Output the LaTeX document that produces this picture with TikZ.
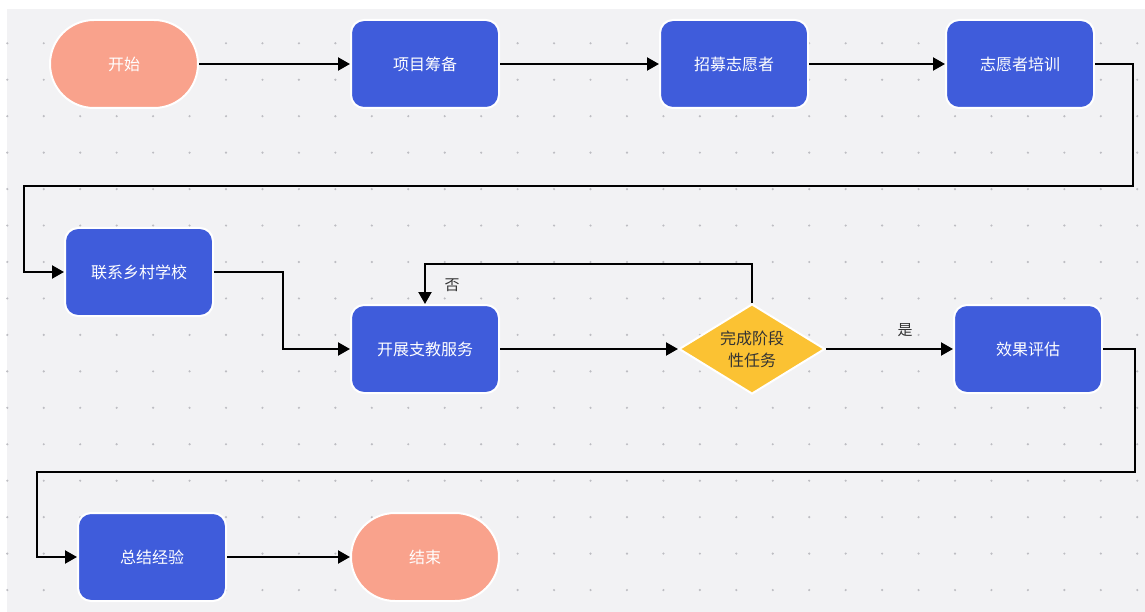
\documentclass[tikz,border=0pt]{standalone}
\usepackage{fontspec}
\newfontfamily\cjk{Noto Sans CJK SC}
\usepackage{tikz}
\usetikzlibrary{arrows.meta,shapes.geometric}

\definecolor{boardgray}{HTML}{F2F2F4}
\definecolor{dotgray}{HTML}{BDBDC2}
\definecolor{taskblue}{HTML}{3F5CDB}
\definecolor{termred}{HTML}{F9A28C}
\definecolor{askyellow}{HTML}{FBC233}
\definecolor{inkdark}{HTML}{333333}

\begin{document}
\begin{tikzpicture}[x=1pt, y=-1pt,
    task/.style={draw=white, line width=2pt, fill=taskblue, rounded corners=13pt,
        minimum width=148pt, minimum height=88pt, text=white,
        font=\cjk\fontsize{16}{18}\selectfont},
    term/.style={task, fill=termred, rounded corners=44pt},
    ask/.style={diamond, aspect=1.6, draw=white, line width=2pt, fill=askyellow, inner sep=0pt,
        minimum width=146pt, minimum height=90pt, text=inkdark, align=center,
        font=\cjk\fontsize{16}{22}\selectfont},
    flow/.style={line width=2.2pt, -{Triangle[length=12pt, width=13pt]}},
    answer/.style={text=inkdark, font=\cjk\fontsize{15}{16}\selectfont}]
\useasboundingbox (0,0) rectangle (1145,612);
\fill[boardgray] (7,9) rectangle (1145,612);
\foreach \i in {0,...,31}
    \foreach \j in {0,...,15}
        \fill[dotgray] (7.3+36.45*\i, 43.3+36.45*\j) circle (1.2pt);

\node[term] (start) at (124,64) {开始};
\node[task] (prep) at (425,64) {项目筹备};
\node[task] (recruit) at (734,64) {招募志愿者};
\node[task] (train) at (1020,64) {志愿者培训};
\node[task] (contact) at (139,272) {联系乡村学校};
\node[task] (teach) at (425,349) {开展支教服务};
\node[ask] (done) at (752,349) {完成阶段\\性任务};
\node[task] (assess) at (1028,349) {效果评估};
\node[task] (sum) at (152,557) {总结经验};
\node[term] (stop) at (425,557) {结束};

\draw[flow] (start) -- (prep);
\draw[flow] (prep) -- (recruit);
\draw[flow] (recruit) -- (train);
\draw[flow] (train.east) -- (1133,64) -- (1133,186) -- (24,186) |- (contact.west);
\draw[flow] (contact.east) -- (283,272) |- (teach.west);
\draw[flow] (teach) -- (done);
\draw[flow] (done.north) -- (752,264) -| (teach.north);
\draw[flow] (done) -- (assess);
\draw[flow] (assess.east) -- (1135,349) -- (1135,472) -- (37,472) |- (sum.west);
\draw[flow] (sum) -- (stop);

\node[answer] (no) at (452,285) {否};
\node[answer] (yes) at (905,330) {是};
\end{tikzpicture}
\end{document}
